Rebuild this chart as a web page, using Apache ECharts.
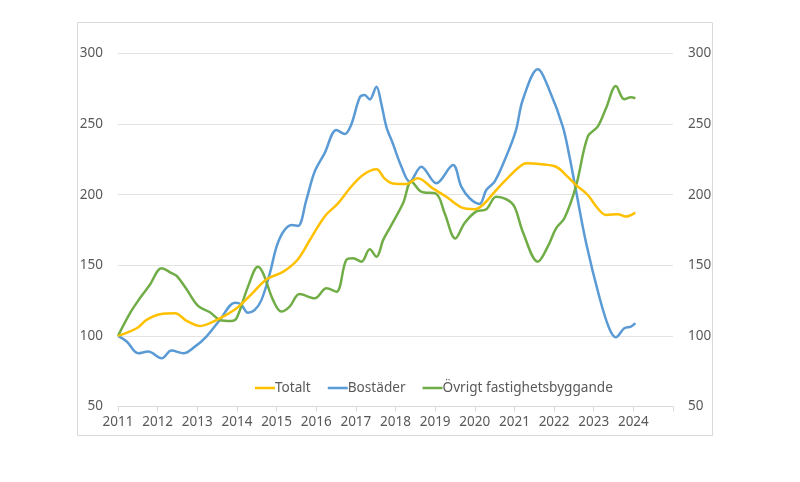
<!DOCTYPE html>
<html><head><meta charset="utf-8">
<script src="https://cdn.jsdelivr.net/npm/echarts@6/dist/echarts.min.js"></script>
<style>html,body{margin:0;padding:0;background:#fff}#c{width:800px;height:482px}</style>
</head><body><div id="c"></div>
<script>
const yearTicks = [2011,2012,2013,2014,2015,2016,2017,2018,2019,2020,2021,2022,2023,2024];
const valueTicks = [50,100,150,200,250,300];

const totaltX = [2011.0,2011.47,2011.72,2012.06,2012.44,2012.73,2013.07,2013.32,2013.65,2013.99,2014.35,2014.75,2015.17,2015.54,2015.84,2016.21,2016.55,2016.88,2017.18,2017.52,2017.72,2017.93,2018.27,2018.56,2018.94,2019.28,2019.66,2019.99,2020.2,2020.54,2020.87,2021.13,2021.29,2021.63,2022.05,2022.34,2022.55,2022.85,2023.1,2023.31,2023.61,2023.81,2024.05];
const totaltY = [100,105.4,111.3,115.3,116,110.7,107,109,113.6,119.6,129,140.1,145.5,154.3,167.9,184.4,193.9,205.6,214,218,211.6,208,207.6,211.6,204.5,198.6,191,189.7,192.7,203.3,213,219.8,222.2,221.7,219.8,212.8,206.9,199.8,190.4,185.7,186.2,184.5,187.3];

const bostaderX = [2011.0,2011.22,2011.51,2011.76,2012.1,2012.35,2012.65,2012.94,2013.23,2013.57,2013.95,2014.1,2014.28,2014.45,2014.62,2014.83,2015.0,2015.17,2015.38,2015.54,2015.75,2015.96,2016.21,2016.51,2016.72,2016.88,2017.1,2017.22,2017.35,2017.52,2017.64,2017.77,2017.93,2018.15,2018.36,2018.65,2019.03,2019.45,2019.66,2019.87,2020.12,2020.29,2020.5,2020.79,2021.04,2021.21,2021.59,2021.88,2022.22,2022.39,2022.55,2022.81,2023.14,2023.39,2023.56,2023.77,2023.94,2024.05];
const bostaderY = [100,96,87.7,88.9,84.1,89.6,87.7,92.4,99.5,111.3,123.5,122.5,116.4,118.4,125.5,144.3,163.2,173.8,178.6,177.9,196.2,216.3,229.3,245.8,243,249.4,269,270.6,267.5,276.5,264.7,248.1,236.4,219.8,209.2,219.8,208.1,221,205.7,197.5,193.5,203.3,209.2,226.9,245.8,267.1,288.8,274.2,248.2,226.9,203.3,165.6,127.8,105.4,99,105.4,106.6,109];

const ovrigtX = [2011.0,2011.3,2011.55,2011.8,2012.1,2012.35,2012.48,2012.73,2013.02,2013.32,2013.57,2013.86,2013.99,2014.28,2014.53,2014.66,2014.91,2015.12,2015.33,2015.58,2015.96,2016.26,2016.51,2016.76,2016.93,2017.14,2017.35,2017.52,2017.69,2017.85,2018.19,2018.4,2018.65,2019.03,2019.24,2019.51,2019.74,2020.03,2020.29,2020.54,2020.79,2021.0,2021.21,2021.59,2021.84,2022.05,2022.26,2022.55,2022.85,2023.1,2023.31,2023.56,2023.77,2023.94,2024.05];
const ovrigtY = [100,116,126.6,136,147.9,144.5,142.5,133,121.3,116.7,111.3,110.6,112.5,134.9,149,144.3,125.5,117.2,120.8,129.6,126.6,133.7,131.3,153.8,155,152.6,161.3,156.1,168,176.2,193.9,209.2,202.1,200.5,186.8,169,179.8,188,189.7,198.6,196.8,191.5,173.8,152.6,163.2,176.2,183.3,205.7,241.1,248.2,261.2,277,267.6,269,268.3];

const seriesNames = ['Totalt','Bostäder','Övrigt fastighetsbyggande'];
const seriesColors = ['#FFC000','#5B9BD5','#70AD47'];

function pairs(xs, ys){ return xs.map((x,i)=>[x, ys[i]]); }
const dataSets = [pairs(totaltX,totaltY), pairs(bostaderX,bostaderY), pairs(ovrigtX,ovrigtY)];

const font = "'Noto Sans', 'Open Sans', sans-serif";
const chart = echarts.init(document.getElementById('c'), null, {renderer:'canvas'});
const yMin = valueTicks[0], yMax = valueTicks[valueTicks.length-1];
const yAxisBase = {
  type:'value', min:yMin, max:yMax, interval:50,
  axisLine:{show:false}, axisTick:{show:false},
  axisLabel:{color:'#595959', fontSize:13.5, fontFamily:font}
};
chart.setOption({
  animation:false,
  graphic:[{type:'rect', shape:{x:77.5,y:22.5,width:635,height:413}, style:{fill:'none', stroke:'#d9d9d9', lineWidth:1}, z:-1}],
  grid:{left:118, right:127, top:53.5, bottom:75.5},
  legend:{
    data:seriesNames, left:250, top:376, itemWidth:20, itemHeight:2.5, icon:'rect', itemGap:17,
    textStyle:{color:'#595959', fontSize:13.6, fontFamily:font, padding:[0,0,0,-5]}
  },
  xAxis:{
    type:'value', min:yearTicks[0], max:yearTicks[yearTicks.length-1]+1, interval:1,
    axisLine:{lineStyle:{color:'#d9d9d9'}},
    axisTick:{show:true, length:5, lineStyle:{color:'#d9d9d9'}},
    splitLine:{show:false},
    axisLabel:{color:'#595959', fontSize:13.5, fontFamily:font, margin:9,
      formatter:v => yearTicks.includes(v) ? String(v) : ''}
  },
  yAxis:[
    Object.assign({}, yAxisBase, {position:'left', splitLine:{lineStyle:{color:'#e3e3e3', width:1.2}}, axisLabel:Object.assign({}, yAxisBase.axisLabel, {margin:15})}),
    Object.assign({}, yAxisBase, {position:'right', splitLine:{show:false}, axisLabel:Object.assign({}, yAxisBase.axisLabel, {margin:15})})
  ],
  series: seriesNames.map((n,i)=>({
    name:n, type:'line', data:dataSets[i], smooth:0.35, showSymbol:false, symbol:'none',
    lineStyle:{color:seriesColors[i], width:2.5}, itemStyle:{color:seriesColors[i]},
    z: i===0 ? 3 : 2
  }))
});
</script></body></html>
